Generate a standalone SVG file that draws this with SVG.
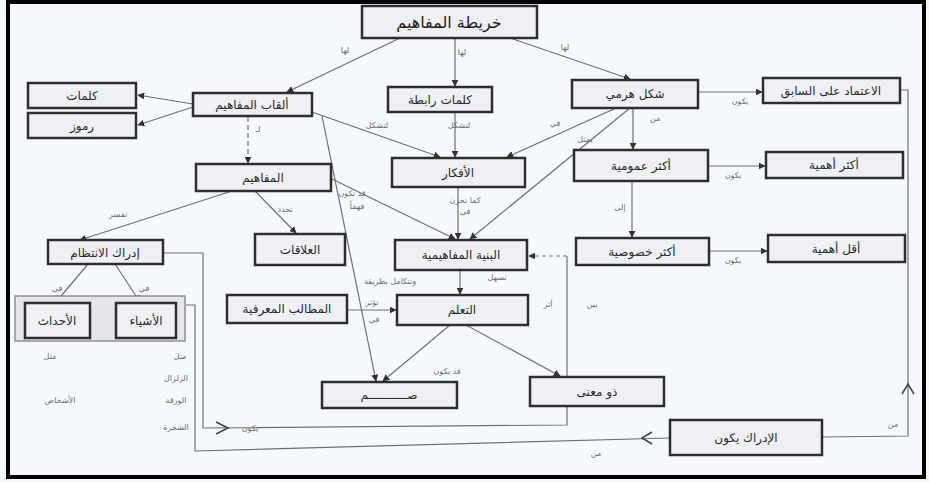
<svg xmlns="http://www.w3.org/2000/svg" width="929" height="482" viewBox="0 0 929 482">
<style>
.bg{fill:#f6f9fc}
.box{fill:#eef0f4;stroke:#2e2e2e;stroke-width:2.5}
.t{font-family:"DejaVu Sans",sans-serif;font-size:12px;fill:#2a2a2a;text-anchor:middle;direction:rtl}
.tt{font-family:"DejaVu Sans",sans-serif;font-size:16px;fill:#1e1e1e;text-anchor:middle;direction:rtl}
.l{font-family:"DejaVu Sans",sans-serif;font-size:8px;fill:#6a6a6a;text-anchor:middle;direction:rtl}
.c{stroke:#707070;stroke-width:1.2;fill:none}
.ca{stroke:#707070;stroke-width:1.2;fill:none;marker-end:url(#ah)}
.chev{stroke:#444;stroke-width:1.6;fill:none}
</style>
<defs>
<marker id="ah" viewBox="0 0 10 10" refX="9" refY="5" markerWidth="7" markerHeight="7" orient="auto" markerUnits="userSpaceOnUse">
<path d="M0,0 L10,5 L0,10 z" fill="#333"/>
</marker>
</defs>
<rect class="bg" x="0" y="0" width="929" height="482"/>
<rect x="8" y="2" width="916" height="475" fill="none" stroke="#000" stroke-width="4"/>

<g id="connectors">
<line class="ca" x1="400" y1="38" x2="287" y2="92"/>
<line class="ca" x1="455" y1="38" x2="455" y2="86"/>
<line class="ca" x1="510" y1="38" x2="630" y2="79"/>
<line class="ca" x1="193" y1="104" x2="138" y2="95"/>
<line class="ca" x1="193" y1="107" x2="138" y2="125"/>
<line class="ca" x1="248" y1="117" x2="248" y2="163" stroke-dasharray="5,3"/>
<line class="ca" x1="312" y1="112" x2="440" y2="157"/>
<line class="ca" x1="455" y1="112" x2="455" y2="157"/>
<line class="ca" x1="625" y1="104" x2="507" y2="157"/>
<line class="ca" x1="630" y1="108" x2="470" y2="239"/>
<line class="ca" x1="633" y1="108" x2="633" y2="149"/>
<line class="ca" x1="698" y1="92" x2="762" y2="92"/>
<line class="ca" x1="322" y1="116" x2="376" y2="381"/>
<line class="ca" x1="330" y1="178" x2="455" y2="239"/>
<line class="ca" x1="458" y1="187" x2="458" y2="239"/>
<line class="ca" x1="708" y1="166" x2="765" y2="166"/>
<line class="ca" x1="632" y1="181" x2="632" y2="237"/>
<line class="ca" x1="709" y1="251" x2="767" y2="251"/>
<line class="ca" x1="232" y1="191" x2="80" y2="240"/>
<line class="ca" x1="255" y1="191" x2="296" y2="233"/>
<line class="ca" x1="88" y1="264" x2="56" y2="302"/>
<line class="ca" x1="115" y1="264" x2="140" y2="302"/>
<line class="ca" x1="460" y1="270" x2="460" y2="294"/>
<line class="ca" x1="347" y1="310" x2="396" y2="310"/>
<line class="ca" x1="450" y1="325" x2="383" y2="381"/>
<line class="ca" x1="466" y1="325" x2="560" y2="376"/>
<polyline class="c" points="900,90 908,90 908,436 823,437"/>
<polyline class="chev" points="902,394 908,384 914,394"/>
<polyline class="c" points="670,438 195,451 195,305 186,305"/>
<polyline class="chev" points="652,432 642,438 652,444"/>
<polyline class="c" points="163,253 203,253 203,428 567,425 567,256"/>
<line class="ca" x1="567" y1="256" x2="529" y2="256" stroke-dasharray="4,3"/>
<polyline class="chev" points="216,422 228,428 216,434"/>
</g>

<g id="labels">
<text class="l" x="345" y="53">لها</text>
<text class="l" x="462" y="55">لها</text>
<text class="l" x="565" y="50">لها</text>
<text class="l" x="258" y="132">لـ</text>
<text class="l" x="377" y="128">لتشكل</text>
<text class="l" x="459" y="128">لتشكل</text>
<text class="l" x="555" y="126">في</text>
<text class="l" x="585" y="142">يمثل</text>
<text class="l" x="655" y="121">من</text>
<text class="l" x="740" y="104">يكون</text>
<text class="l" x="352" y="196">قد تكون</text>
<text class="l" x="357" y="209">فهماً</text>
<text class="l" x="465" y="203">كما تخزن</text>
<text class="l" x="465" y="214">في</text>
<text class="l" x="733" y="178">يكون</text>
<text class="l" x="620" y="210">إلى</text>
<text class="l" x="733" y="263">يكون</text>
<text class="l" x="118" y="217">تفسر</text>
<text class="l" x="285" y="212">تحدد</text>
<text class="l" x="57" y="291">في</text>
<text class="l" x="144" y="291">في</text>
<text class="l" x="497" y="280">تسهل</text>
<text class="l" x="390" y="284">وتتكامل بطريقة</text>
<text class="l" x="372" y="305">تؤثر</text>
<text class="l" x="374" y="322">في</text>
<text class="l" x="447" y="374">قد يكون</text>
<text class="l" x="548" y="307">أثر</text>
<text class="l" x="592" y="307">بين</text>
<text class="l" x="250" y="431">يكون</text>
<text class="l" x="893" y="427">من</text>
<text class="l" x="596" y="456">من</text>
<text class="l" x="180" y="359">مثل</text>
<text class="l" x="176" y="381">الزلزال</text>
<text class="l" x="176" y="403">الورقة</text>
<text class="l" x="176" y="430">الشجرة</text>
<text class="l" x="50" y="359">مثل</text>
<text class="l" x="60" y="403">الأشخاص</text>
</g>

<g id="n-title"><rect class="box" x="362" y="6" width="175" height="32"/><text class="tt" x="449" y="28">خريطة المفاهيم</text></g>
<g id="n-alqab"><rect class="box" x="193" y="93" width="119" height="23"/><text class="t" x="252" y="109">ألقاب المفاهيم</text></g>
<g id="n-kalimat-rabita"><rect class="box" x="388" y="87" width="104" height="25"/><text class="t" x="440" y="104">كلمات رابطة</text></g>
<g id="n-shakl"><rect class="box" x="572" y="80" width="126" height="28"/><text class="t" x="635" y="98">شكل هرمي</text></g>
<g id="n-itimad"><rect class="box" x="763" y="78" width="137" height="25"/><text class="t" x="831" y="95">الاعتماد على السابق</text></g>
<g id="n-kalimat"><rect class="box" x="28" y="83" width="108" height="25"/><text class="t" x="82" y="100">كلمات</text></g>
<g id="n-rumuz"><rect class="box" x="28" y="113" width="108" height="25"/><text class="t" x="82" y="130">رموز</text></g>
<g id="n-mafahim"><rect class="box" x="196" y="164" width="135" height="27"/><text class="t" x="263" y="182">المفاهيم</text></g>
<g id="n-afkar"><rect class="box" x="392" y="158" width="133" height="29"/><text class="t" x="458" y="177">الأفكار</text></g>
<g id="n-umumiya"><rect class="box" x="574" y="150" width="134" height="31"/><text class="t" x="641" y="170">أكثر عمومية</text></g>
<g id="n-ahamiya"><rect class="box" x="766" y="152" width="137" height="26"/><text class="t" x="834" y="169">أكثر أهمية</text></g>
<g id="n-intizam-group"><rect x="15" y="296" width="170" height="45" fill="#e4e6ea" stroke="#777" stroke-width="1.2"/></g>
<g id="n-idrak-intizam"><rect class="box" x="48" y="240" width="115" height="24"/><text class="t" x="105" y="257">إدراك الانتظام</text></g>
<g id="n-alaqat"><rect class="box" x="255" y="234" width="90" height="31"/><text class="t" x="300" y="254">العلاقات</text></g>
<g id="n-binya"><rect class="box" x="395" y="240" width="132" height="30"/><text class="t" x="461" y="259">البنية المفاهيمية</text></g>
<g id="n-khususiya"><rect class="box" x="576" y="238" width="133" height="27"/><text class="t" x="642" y="256">أكثر خصوصية</text></g>
<g id="n-aqal"><rect class="box" x="768" y="235" width="137" height="27"/><text class="t" x="836" y="253">أقل أهمية</text></g>
<g id="n-ahdath"><rect class="box" x="25" y="303" width="65" height="35"/><text class="t" x="57" y="325">الأحداث</text></g>
<g id="n-ashya"><rect class="box" x="116" y="303" width="60" height="35"/><text class="t" x="146" y="325">الأشياء</text></g>
<g id="n-matalib"><rect class="box" x="227" y="295" width="120" height="28"/><text class="t" x="287" y="313">المطالب المعرفية</text></g>
<g id="n-taallum"><rect class="box" x="397" y="295" width="131" height="30"/><text class="t" x="462" y="314">التعلم</text></g>
<g id="n-sum"><rect class="box" x="322" y="382" width="135" height="26"/><text class="t" x="389" y="399">صـــــــــــم</text></g>
<g id="n-mana"><rect class="box" x="530" y="377" width="134" height="29"/><text class="t" x="597" y="396">ذو معنى</text></g>
<g id="n-idrak"><rect class="box" x="670" y="420" width="152" height="35"/><text class="t" x="746" y="442">الإدراك يكون</text></g>
</svg>
